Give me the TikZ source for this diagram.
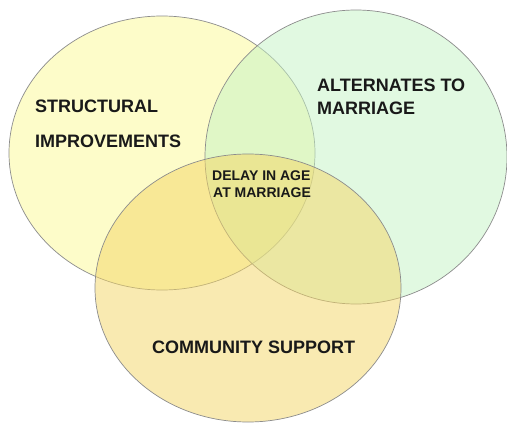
\documentclass[tikz,border=0pt]{standalone}
\usepackage{fontspec}
\setmainfont{Liberation Sans}
\begin{document}
\begin{tikzpicture}[x=1pt,y=-1pt,
  setfill/.style={draw=black!45, line width=0.7pt, fill opacity=0.5},
  lbl/.style={anchor=base west, inner sep=0pt, text=black!90, font=\bfseries\fontsize{18}{20}\selectfont},
  lblsmall/.style={lbl, font=\bfseries\fontsize{14}{16}\selectfont}]
  \definecolor{setyellow}{RGB}{252,250,148}
  \definecolor{setgreen}{RGB}{197,244,197}
  \definecolor{setorange}{RGB}{245,214,100}
  \useasboundingbox (0,0) rectangle (507,423);
  \fill[white] (0,0) rectangle (507,423);
  % the three overlapping sets
  \draw[setfill, fill=setyellow] (162,153) ellipse [x radius=153, y radius=137];
  \draw[setfill, fill=setgreen]  (356,157) ellipse [x radius=151, y radius=147];
  \draw[setfill, fill=setorange] (248,288) ellipse [x radius=153, y radius=134];
  % set labels
  \node[lbl] (s1) at (35,112) {STRUCTURAL};
  \node[lbl] (s2) at (35,147) {IMPROVEMENTS};
  \node[lbl] (a1) at (317,91) {ALTERNATES TO};
  \node[lbl] (a2) at (317,114) {MARRIAGE};
  \node[lblsmall] (d1) at (212,180) {DELAY IN AGE};
  \node[lblsmall] (d2) at (213,197) {AT MARRIAGE};
  \node[lbl] (c1) at (152,353) {COMMUNITY SUPPORT};
\end{tikzpicture}
\end{document}
